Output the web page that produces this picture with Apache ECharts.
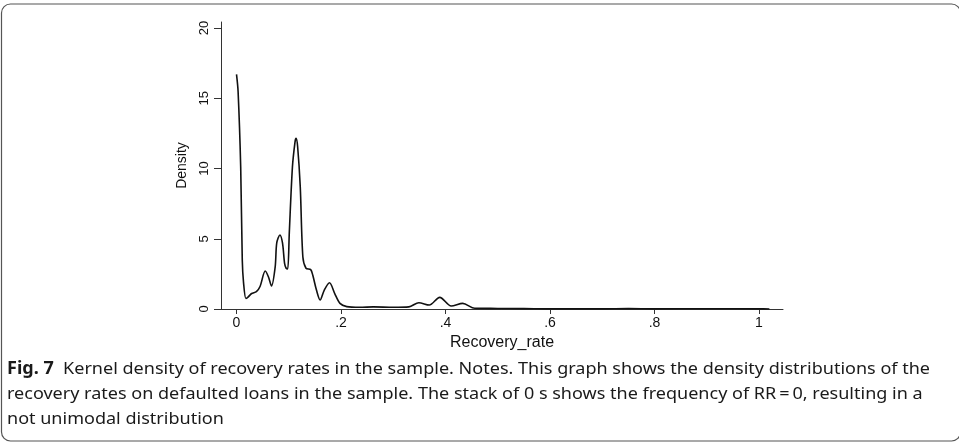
<!DOCTYPE html>
<html>
<head>
<meta charset="utf-8">
<script src="https://cdn.jsdelivr.net/npm/echarts@6/dist/echarts.min.js"></script>
<style>html,body{margin:0;padding:0;background:#fff;}#c{width:959px;height:444px;}</style>
</head>
<body>
<div id="c"></div>
<script>
// Data
var recoveryRate = [0.000,0.003,0.008,0.011,0.0134,0.018,0.022,0.029,0.038,0.045,0.055,0.061,0.067,0.074,0.077,0.083,0.088,0.092,0.095,0.098,0.101,0.107,0.112,0.114,0.117,0.122,0.127,0.133,0.142,0.146,0.153,0.160,0.168,0.178,0.188,0.198,0.211,0.236,0.262,0.30,0.33,0.349,0.369,0.389,0.411,0.433,0.456,0.50,0.55,0.60,0.70,0.75,0.80,0.90,1.00,1.02];
var density = [16.7,15.5,10.1,3.5,1.9,0.75,0.85,1.1,1.23,1.6,2.7,2.3,1.64,3.0,4.7,5.27,4.7,3.25,2.9,2.85,5.4,10.1,11.9,12.15,11.55,8.7,3.7,2.9,2.8,2.4,1.35,0.64,1.35,1.87,1.1,0.4,0.17,0.12,0.15,0.12,0.15,0.45,0.28,0.83,0.21,0.4,0.05,0.04,0.03,0.01,0.01,0.03,0.01,0.02,0.01,0.005];
var xTicks = [0,0.2,0.4,0.6,0.8,1];
var yTicks = [0,5,10,15,20];
var xTitle = 'Recovery_rate';
var yTitle = 'Density';
var captionBold = 'Fig. 7';
var captionLines = [
  '  Kernel density of recovery rates in the sample. Notes. This graph shows the density distributions of the',
  'recovery rates on defaulted loans in the sample. The stack of 0 s shows the frequency of RR\u2009=\u20090, resulting in a',
  'not unimodal distribution'
];

var chart = echarts.init(document.getElementById('c'), null, {renderer:'canvas'});
var capFont = '"Noto Sans", "Open Sans", sans-serif';
var capSize = 17;
var cv = document.createElement('canvas').getContext('2d');
cv.font = 'bold ' + capSize + 'px ' + capFont;
var wb = cv.measureText(captionBold).width;
cv.font = capSize + 'px ' + capFont;
var w1 = wb + cv.measureText(captionLines[0]).width;
var sx = 923 / w1;

var pts = recoveryRate.map(function(x,i){return [x, density[i]];});
var axisCol = '#333';
var lblFont = 'Liberation Sans, Arial, sans-serif';
var option = {
  animation:false,
  grid:{left:221, right:176, top:22, bottom:135},
  xAxis:{
    type:'value', min:-0.0297, max:1.046,
    name:xTitle, nameLocation:'middle', nameGap:22,
    nameTextStyle:{fontFamily:lblFont, fontSize:16, color:'#111'},
    axisLine:{show:true, onZero:false, lineStyle:{color:axisCol, width:1}},
    axisTick:{show:true, length:5, customValues:xTicks, lineStyle:{color:axisCol}},
    axisLabel:{customValues:xTicks, margin:7, fontFamily:lblFont, fontSize:14, color:'#111',
      formatter:function(v){ if (Math.abs(v-1)<1e-9) return '1'; if (Math.abs(v)<1e-9) return '0'; return String(+v.toFixed(1)).replace(/^0/,''); }},
    splitLine:{show:false}
  },
  yAxis:{
    type:'value', min:0, max:20.43,
    name:yTitle, nameLocation:'middle', nameGap:32, nameRotate:90,
    nameTextStyle:{fontFamily:lblFont, fontSize:14, color:'#111'},
    axisLine:{show:true, onZero:false, lineStyle:{color:axisCol, width:1}},
    axisTick:{show:true, length:7, customValues:yTicks, lineStyle:{color:axisCol}},
    axisLabel:{customValues:yTicks, rotate:90, margin:10, fontFamily:lblFont, fontSize:13, color:'#111'},
    splitLine:{show:false}
  },
  series:[{
    type:'line', data:pts, showSymbol:false, smooth:0.3,
    lineStyle:{color:'#111', width:1.6}, z:3
  }],
  graphic:[
    {type:'rect', shape:{x:1.5, y:4, width:959, height:437, r:9}, style:{fill:'none', stroke:'#555', lineWidth:1.2}, silent:true},
    {type:'text', x:7, y:369, scaleX:sx, style:{text:'{b|'+captionBold+'}'+captionLines[0], font: capSize+'px '+capFont, fill:'#1a1a1a', verticalAlign:'middle',
      rich:{b:{fontWeight:'bold', fontSize:capSize, fontFamily:capFont, fill:'#1a1a1a'}}}},
    {type:'text', x:7, y:394, scaleX:sx, style:{text:captionLines[1], font: capSize+'px '+capFont, fill:'#1a1a1a', verticalAlign:'middle'}},
    {type:'text', x:7, y:419, scaleX:sx, style:{text:captionLines[2], font: capSize+'px '+capFont, fill:'#1a1a1a', verticalAlign:'middle'}}
  ]
};
chart.setOption(option);
</script>
</body>
</html>
